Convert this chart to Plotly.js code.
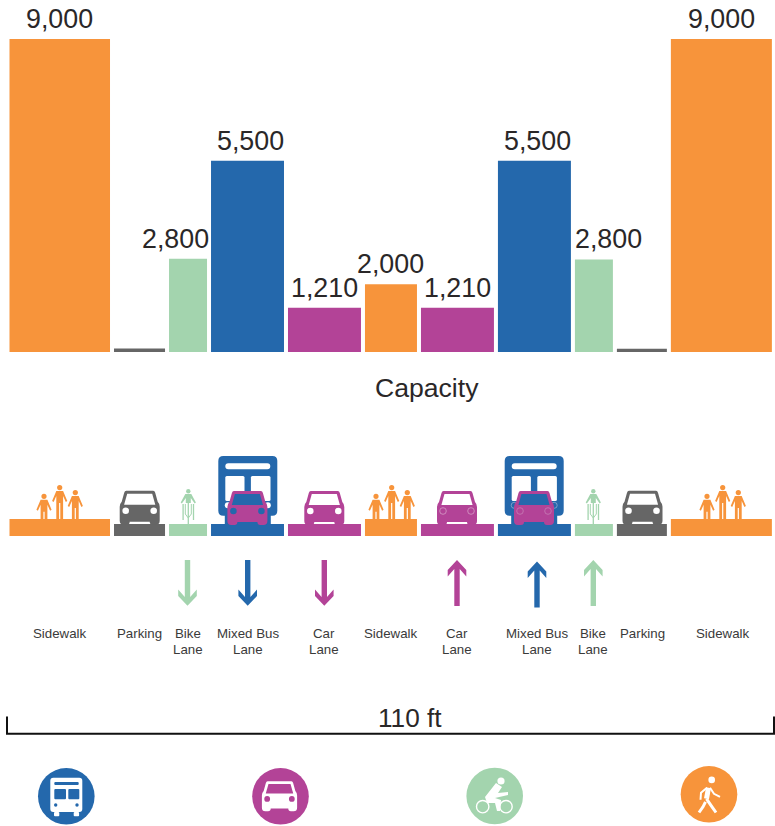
<!DOCTYPE html>
<html>
<head>
<meta charset="utf-8">
<script src="https://cdn.plot.ly/plotly-3.0.1.min.js"></script>
<style>html,body{margin:0;padding:0;background:#fff}#chart{width:775px;height:826px}</style>
</head>
<body>
<div id="chart"></div>
<script>
// ---- data ----
const laneNames = ["Sidewalk","Parking","Bike|Lane","Mixed Bus|Lane","Car|Lane","Sidewalk","Car|Lane","Mixed Bus|Lane","Bike|Lane","Parking","Sidewalk"];
const laneWidthsFt = [14.42,7.32,5.45,10.47,10.47,7.46,10.47,10.47,5.45,7.17,14.49];
const capacityHeights = [9000,100,2680,5500,1270,1950,1270,5500,2660,90,9000];
const capacityLabels = ["9,000","","2,800","5,500","1,210","2,000","1,210","5,500","2,800","","9,000"];
const stripThickness = [17,12,12,12,12,17,12,12,12,12,17];
const laneColors = ["#F7943B","#666666","#A3D4AE","#2468AC","#B34397","#F7943B","#B34397","#2468AC","#A3D4AE","#666666","#F7943B"];
const labelShift = [0,0,-13,3,0,0,0,3,15,0,0];
const modeColors = ["#2468AC","#B34397","#A3D4AE","#F7943B"];
const modeX = [66.3,280.5,494.7,709];
const modeY = [796.3,796.3,796,794.3];

// ---- derived scales ----
const PX_PER_FT = 6.97, GAP_FT = 0.574, LEFT_PX = 9.5, BASE_PX = 352, PX_PER_CAP = 313/9000;
let cursor = 0; const laneCenters = laneWidthsFt.map(w => { const c = cursor + w/2; cursor += w + GAP_FT; return c; });

// ---- icon helpers (icon glyphs in a page-pixel overlay axis) ----
const shapes = [];
function move(path, dx, dy, s){ s = s||1;
  return path.replace(/(-?[\d.]+),(-?[\d.]+)/g,(m,a,b)=>((+a)*s+dx).toFixed(2)+","+((+b)*s+dy).toFixed(2)); }
function fillPath(path,color,extra){ shapes.push(Object.assign({type:"path",xref:"x2",yref:"y2",path,fillcolor:color,line:{width:0}},extra||{})); }
function strokePath(path,color,w){ shapes.push({type:"path",xref:"x2",yref:"y2",path,fillcolor:"rgba(0,0,0,0)",line:{color,width:w}}); }
function disc(cx,cy,r,fill,lineColor,lw){ shapes.push({type:"circle",xref:"x2",yref:"y2",x0:cx-r,x1:cx+r,y0:cy-r,y1:cy+r,fillcolor:fill,line:lineColor?{color:lineColor,width:lw||1}:{width:0}}); }

const CAR_BODY="M-13.5,0 L13.5,0 Q15,0 15.5,2 L18,11 Q20,13 20,16 L20,30 Q20,34 16,34 L13,34 Q10,34 10,31 L-10,31 Q-10,34 -13,34 L-16,34 Q-20,34 -20,30 L-20,16 Q-20,13 -18,11 L-15.5,2 Q-15,0 -13.5,0 Z";
const CAR_SHIELD="M-12.5,3 L12.5,3 L15.6,14 L-15.6,14 Z";
function car(cx,top,body,glass,lamp,lampLine,s){ s=s||1;
  fillPath(move(CAR_BODY,cx,top,s),body);
  fillPath(move(CAR_SHIELD,cx,top,s),glass);
  [-1,1].forEach(k=>disc(cx+k*14*s,top+20*s,3.3*s,lamp,lampLine,0.8));
}
function rrect(x0,y0,x1,y1,r){ return `M${x0+r},${y0} L${x1-r},${y0} Q${x1},${y0} ${x1},${y0+r} L${x1},${y1-r} Q${x1},${y1} ${x1-r},${y1} L${x0+r},${y1} Q${x0},${y1} ${x0},${y1-r} L${x0},${y0+r} Q${x0},${y0} ${x0+r},${y0} Z`; }
function bus(cx,lampLine){
  fillPath(rrect(cx-29.5,456,cx+29.5,515.7,5),"#2468AC");
  fillPath(rrect(cx-23,515,cx+23,525,0),"#2468AC");
  fillPath(rrect(cx-22.5,463.3,cx+22.5,469.2,3),"#fff");
  fillPath(rrect(cx-22.5,476,cx-3.3,501,1.5),"#fff");
  fillPath(rrect(cx+3.1,476,cx+22.7,501,1.5),"#fff");
  [-1,1].forEach(k=>disc(cx+k*20,505.3,3,lampLine?"#2468AC":"#fff",lampLine,0.8));
}
function person(cx,top,bottom){
  const s=top+6;
  disc(cx,top+2.6,2.6,"#F7943B");
  fillPath(`M${cx-3.4},${s} L${cx+3.4},${s} L${cx+7.6},${s+10} L${cx+6.1},${s+11} L${cx+3.4},${s+5} L${cx+3.4},${bottom} L${cx+0.6},${bottom} L${cx+0.6},${s+12} L${cx-0.6},${s+12} L${cx-0.6},${bottom} L${cx-3.4},${bottom} L${cx-3.4},${s+5} L${cx-6.1},${s+11} L${cx-7.6},${s+10} Z`,"#F7943B");
}
function people(cx){ person(cx-15.7,493.7,519.5); person(cx,485,519.5); person(cx+15.6,490,519.5); }
function rider(cx){
  const c="#A3D4AE";
  disc(cx,491.2,2.2,c);
  fillPath(move("M-3,5 L3,5 L7.6,13.5 L6.4,14.5 L2.5,9 L2.5,14 L-2.5,14 L-2.5,9 L-6.4,14.5 L-7.6,13.5 Z",cx,489),c);
  strokePath(move("M0,12 L0,35.7",cx,489),c,1.3);
  strokePath(move("M-5.2,15 L-5.2,31",cx,489),c,1.3);
  strokePath(move("M5.2,15 L5.2,31",cx,489),c,1.3);
  strokePath(move("M-3,15 L-3,25 L0,29 L3,25 L3,15",cx,489),c,1);
}
const ARROW_DOWN="M-2.7,0 L2.7,0 L2.7,37 L9.3,29.5 L9.3,36 L0,45.7 L-9.3,36 L-9.3,29.5 L-2.7,37 Z";
const ARROW_UP="M-2.7,46 L2.7,46 L2.7,9 L9.3,16.5 L9.3,10 L0,0 L-9.3,10 L-9.3,16.5 L-2.7,9 Z";
const arrow=(path,cx,top,c)=>fillPath(move(path,cx,top),c);

// street icons
people(59.7); people(391.7); people(722.7);
car(139.7,490.7,"#666666","#fff","#fff");
car(642.5,490.7,"#666666","#fff","#fff");
rider(188.3); rider(593.3);
bus(247.8); car(247.4,491,"#B34397","#2468AC","#2468AC");
bus(534.2,"#8FA9CF"); car(534,491,"#B34397","#2468AC","#B34397","#C77DB6");
car(324.3,491,"#B34397","#fff","#fff");
car(457,491,"#B34397","#fff","#B34397","#D59CC6");
arrow(ARROW_DOWN,187.5,560,"#A3D4AE");
arrow(ARROW_DOWN,247.7,560,"#2468AC");
arrow(ARROW_DOWN,324.3,560,"#B34397");
arrow(ARROW_UP,457,560,"#B34397");
arrow(ARROW_UP,537,561.5,"#2468AC");
arrow(ARROW_UP,593.3,560,"#A3D4AE");

// dimension bracket
shapes.push({type:"path",xref:"x2",yref:"y2",path:"M7,716.5 L7,733.7 L774,733.7 L774,716.5",fillcolor:"rgba(0,0,0,0)",line:{color:"#111",width:2}});

// mode icons
(function(){
  const [bx,by]=[modeX[0],modeY[0]];
  fillPath(rrect(bx-16,777.7,bx+16,812,3),"#fff");
  fillPath(rrect(bx-12.3,812,bx-7,816.3,1),"#fff");
  fillPath(rrect(bx+7.4,812,bx+12.8,816.3,1),"#fff");
  fillPath(rrect(bx-12,782,bx+12.4,785,1),"#2468AC");
  fillPath(rrect(bx-12,789,bx-0.3,799.3,1),"#2468AC");
  fillPath(rrect(bx+2,789,bx+13,799.3,1),"#2468AC");
  [-10.6,10.7].forEach(k=>disc(bx+k,805,1.7,"#2468AC"));
  car(modeX[1]-1,781.3,"#fff","#B34397","#B34397",null,0.88);
  const kx=modeX[2],ky=modeY[2];
  disc(kx+6.3,781,3.6,"#fff");
  fillPath(move("M-9.7,1 L1.3,-13 L7.3,-9 L3.3,-3 L13.3,-4 L13.3,-1 L0.3,2 L6.3,4 L5.3,15 L2.3,15 L0.3,7 L-7.7,7 Z",kx,ky),"#fff");
  disc(kx-12,ky+10.7,6.2,"rgba(0,0,0,0)","#fff",1.4);
  disc(kx+11.3,ky+10.7,6.2,"rgba(0,0,0,0)","#fff",1.4);
  const wx=modeX[3],wy=modeY[3];
  disc(wx+2.7,wy-14.4,3.3,"#fff");
  strokePath(move("M-0.5,-6.5 L-2.5,4.5",wx,wy),"#fff",5);
  strokePath(move("M1,-6.5 L5,-0.5 L11,2.5",wx,wy),"#fff",2);
  strokePath(move("M-2,-6.5 L-8,-1.5 L-8.5,5.5",wx,wy),"#fff",2);
  strokePath(move("M-2.5,4.5 L3,12.5 L7,18.2",wx,wy),"#fff",3);
  strokePath(move("M-3.5,7.5 L-6,12.5 L-10,18.2",wx,wy),"#fff",3);
})();

// ---- annotations ----
const FONT="Liberation Sans, Arial, sans-serif";
const annotations=[];
capacityLabels.forEach((t,i)=>{ if(!t) return;
  annotations.push({xref:"x",yref:"y",x:laneCenters[i],y:capacityHeights[i],text:t,showarrow:false,xanchor:"center",yanchor:"bottom",xshift:labelShift[i],yshift:3,font:{family:FONT,size:26.8,color:"#2A2728"}});
});
const nameX=[59.5,139.5,187.5,247.5,324,391,457,537,593,642,722.5];
laneNames.forEach((t,i)=>t.split("|").forEach((line,j)=>annotations.push({xref:"x2",yref:"y2",x:nameX[i],y:633.5+16*j,text:line,showarrow:false,xanchor:"center",yanchor:"middle",font:{family:FONT,size:13.3,color:"#3A3A3A"}})));
annotations.push({xref:"x2",yref:"y2",x:426.5,y:388,text:"Capacity",showarrow:false,font:{family:FONT,size:26.6,color:"#2A2728"}});
annotations.push({xref:"x2",yref:"y2",x:410,y:718,text:"110 ft",showarrow:false,font:{family:FONT,size:26.2,color:"#2A2728"}});

// ---- traces ----
const traces=[
 {type:"bar",name:"Capacity",x:laneCenters,y:capacityHeights,width:laneWidthsFt,marker:{color:laneColors,line:{width:0}},hoverinfo:"skip",xaxis:"x",yaxis:"y"},
 {type:"bar",name:"Cross section",x:laneCenters,y:stripThickness,width:laneWidthsFt,marker:{color:laneColors,line:{width:0}},hoverinfo:"skip",xaxis:"x",yaxis:"y3"},
 {type:"scatter",mode:"markers",name:"Modes",x:modeX,y:modeY,marker:{size:56.6,color:modeColors,line:{width:0}},hoverinfo:"skip",xaxis:"x2",yaxis:"y2"}
];
const hidden={visible:false,fixedrange:true,showgrid:false,zeroline:false};
const layout={
 width:775,height:826,margin:{l:0,r:0,t:0,b:0,pad:0},
 paper_bgcolor:"#fff",plot_bgcolor:"#fff",showlegend:false,barmode:"overlay",
 xaxis:Object.assign({range:[-LEFT_PX/PX_PER_FT,(775-LEFT_PX)/PX_PER_FT],domain:[0,1]},hidden),
 yaxis:Object.assign({range:[-(826-BASE_PX)/PX_PER_CAP,BASE_PX/PX_PER_CAP],domain:[0,1]},hidden),
 xaxis2:Object.assign({range:[0,775],overlaying:"x",anchor:"y2"},hidden),
 yaxis2:Object.assign({range:[826,0],overlaying:"y",anchor:"x2"},hidden),
 yaxis3:Object.assign({range:[-(826-536),536],overlaying:"y",anchor:"x"},hidden),
 shapes,annotations
};
Plotly.newPlot("chart",traces,layout,{displayModeBar:false,staticPlot:true});
</script>
</body>
</html>
